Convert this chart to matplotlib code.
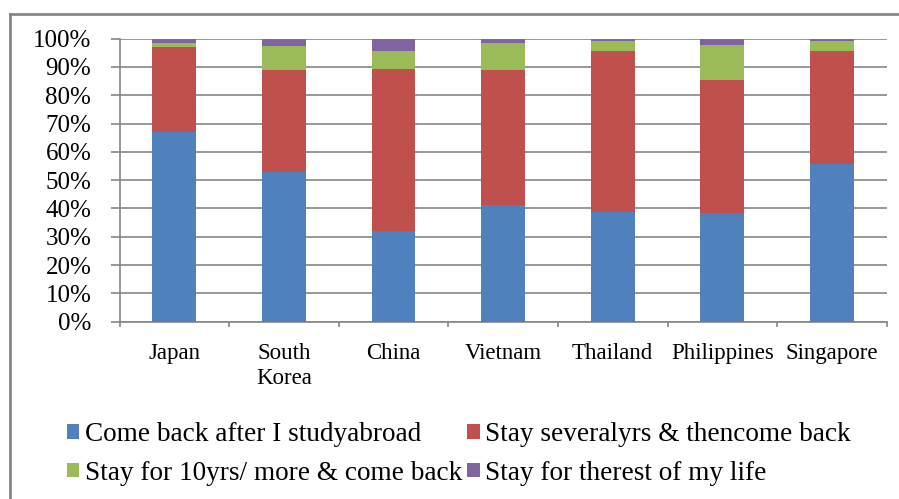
import matplotlib
matplotlib.use("Agg")
import matplotlib.pyplot as plt
from matplotlib.lines import Line2D
import numpy as np

countries = ["Japan", "South\nKorea", "China", "Vietnam", "Thailand", "Philippines", "Singapore"]
come_back = [67.0, 53.0, 32.2, 41.1, 38.8, 38.3, 55.9]
several_yrs = [30.0, 35.9, 57.1, 47.8, 56.7, 47.2, 39.6]
ten_yrs = [1.6, 8.6, 6.2, 9.7, 3.8, 12.3, 3.6]
rest_of_life = [1.4, 2.5, 4.5, 1.4, 0.7, 2.2, 0.9]
series_labels = [
    "Come back after I studyabroad",
    "Stay severalyrs & thencome back",
    "Stay for 10yrs/ more & come back",
    "Stay for therest of my life",
]
colors = ["#4F81BD", "#C0504D", "#9BBB59", "#8064A2"]
ytick_labels = ["0%", "10%", "20%", "30%", "40%", "50%", "60%", "70%", "80%", "90%", "100%"]

FONT = ["Liberation Serif", "DejaVu Serif"]
GRID = "#868686"

W, H = 899, 499
fig = plt.figure(figsize=(W / 100, H / 100), dpi=100)
ax = fig.add_axes([119.5 / W, 1 - 321.7 / H, (886.7 - 119.5) / W, (321.7 - 38.7) / H])

x = np.arange(len(countries))
bottom = np.zeros(len(countries))
handles = []
for vals, lab, col in zip([come_back, several_yrs, ten_yrs, rest_of_life], series_labels, colors):
    bars = ax.bar(x, vals, width=0.4, bottom=bottom, color=col, label=lab, zorder=3)
    handles.append(bars.patches[0])
    bottom = bottom + np.array(vals)

ax.set_xlim(-0.5, len(countries) - 0.5)
ax.set_ylim(0, 100)
ax.set_yticks(np.arange(0, 101, 10))
ax.set_yticklabels(ytick_labels, family=FONT, fontsize=18)
ax.yaxis.grid(True, color=GRID, lw=1.2, zorder=0)
ax.set_xticks(x)
ax.set_xticklabels(countries, family=FONT, fontsize=16.5, linespacing=1.3)
ax.set_xticks(np.arange(-0.5, len(countries)), minor=True)
ax.tick_params(axis="x", which="major", length=0, pad=15)
ax.tick_params(axis="x", which="minor", length=3.6, color=GRID, width=1.2)
ax.tick_params(axis="y", length=6.8, color=GRID, width=1.2, pad=13.5)
for s in ["top", "right"]:
    ax.spines[s].set_visible(False)
for s in ["left", "bottom"]:
    ax.spines[s].set_color(GRID)
    ax.spines[s].set_linewidth(1.2)

# two legend rows: blue/red on top, green/purple below
order = [0, 2, 1, 3]
fig.legend(
    handles=[handles[i] for i in order],
    labels=[series_labels[i] for i in order],
    loc="upper left",
    bbox_to_anchor=(67 / W, 1 - 422 / H),
    ncol=2,
    frameon=False,
    borderpad=0,
    borderaxespad=0,
    prop={"family": FONT, "size": 19.6},
    handlelength=0.45,
    handleheight=0.45,
    handletextpad=0.2,
    columnspacing=0.2,
    labelspacing=0.5,
)

# outer chart border
fig.add_artist(Line2D([9.5 / W, 9.5 / W], [0, 1 - 13.5 / H], color=GRID, lw=2))
fig.add_artist(Line2D([9.5 / W, 1], [1 - 13.5 / H, 1 - 13.5 / H], color=GRID, lw=2))

fig.savefig("out.png", dpi=100)
